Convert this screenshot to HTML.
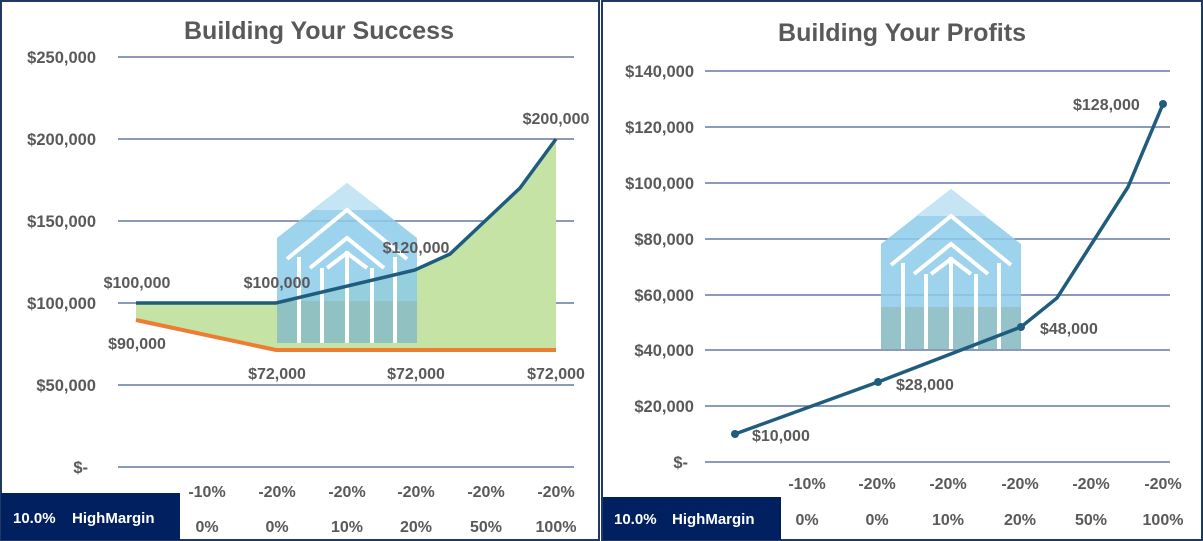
<!DOCTYPE html>
<html><head><style>
body{margin:0;background:#fff;}
svg{display:block;font-family:"Liberation Sans",sans-serif;}
.t{font-weight:bold;fill:#595959;}
</style></head><body>
<svg width="1203" height="541" viewBox="0 0 1203 541">
<defs>
<g id="logo">
<path d="M0,55 L70,0 L140,55 L140,160 L0,160 Z" fill="#8ccbe9" opacity="0.85"/>
<path d="M35,27 L70,0 L105,27 Z" fill="#c5e5f4"/>
<rect x="0" y="118" width="140" height="42" fill="#8fb0a0" opacity="0.45"/>
<g fill="none" stroke="#fff" stroke-width="4">
<path d="M10,76 L70,27 L130,76"/>
<path d="M33,85 L70,55 L107,85"/>
<path d="M50,85 L70,70 L90,85"/>
<path d="M22,74 V160 M118,74 V160 M45,85 V160 M95,85 V160 M70,68 V160"/>
</g>
</g>
</defs>
<!-- left panel -->
<rect x="1" y="1" width="598" height="539" fill="#fff" stroke="#1f3864" stroke-width="2"/>
<text x="319" y="39" text-anchor="middle" font-size="25" class="t" textLength="270" lengthAdjust="spacingAndGlyphs">Building Your Success</text>
<g stroke="#6478a0" stroke-width="1.5">
<line x1="118" x2="574" y1="57" y2="57"/><line x1="118" x2="574" y1="139" y2="139"/>
<line x1="118" x2="574" y1="221" y2="221"/><line x1="118" x2="574" y1="303" y2="303"/>
<line x1="118" x2="574" y1="385" y2="385"/><line x1="118" x2="574" y1="467" y2="467"/>
</g>
<g font-size="16.5" class="t" text-anchor="end">
<text x="96" y="63">$250,000</text><text x="96" y="145">$200,000</text>
<text x="96" y="227">$150,000</text><text x="96" y="309">$100,000</text>
<text x="96" y="391">$50,000</text><text x="88" y="473">$-</text>
</g>
<polygon points="136,303 276,303 415,270 450,254 520,188 556,139 556,350 276,350 136,320" fill="#c5e3a4"/>
<use href="#logo" x="277" y="183"/>
<polyline points="136,320 276,350 556,350" fill="none" stroke="#ed7d31" stroke-width="4"/>
<polyline points="136,303 276,303 415,270 450,254 520,188 556,139" fill="none" stroke="#1f5c7d" stroke-width="3.5"/>
<g font-size="16" class="t" text-anchor="middle">
<text x="137" y="288">$100,000</text><text x="137" y="349">$90,000</text>
<text x="277" y="288">$100,000</text><text x="277" y="379">$72,000</text>
<text x="416" y="253">$120,000</text><text x="416" y="379">$72,000</text>
<text x="556" y="124">$200,000</text><text x="556" y="379">$72,000</text>
<text x="207" y="497">-10%</text><text x="277" y="497">-20%</text><text x="347" y="497">-20%</text>
<text x="416" y="497">-20%</text><text x="486" y="497">-20%</text><text x="556" y="497">-20%</text>
<text x="207" y="532">0%</text><text x="277" y="532">0%</text><text x="347" y="532">10%</text>
<text x="416" y="532">20%</text><text x="486" y="532">50%</text><text x="556" y="532">100%</text>
</g>
<rect x="1" y="493" width="179" height="47" fill="#002060"/>
<text x="13" y="523" font-size="15" font-weight="bold" fill="#fff">10.0%</text>
<text x="72" y="523" font-size="15" font-weight="bold" fill="#fff">HighMargin</text>
<!-- right panel -->
<rect x="602" y="1" width="600" height="539" fill="#fff" stroke="#1f3864" stroke-width="2"/>
<text x="902" y="41" text-anchor="middle" font-size="25" class="t" textLength="248" lengthAdjust="spacingAndGlyphs">Building Your Profits</text>
<g stroke="#6478a0" stroke-width="1.5">
<line x1="705" x2="1170" y1="71" y2="71"/><line x1="705" x2="1170" y1="127" y2="127"/>
<line x1="705" x2="1170" y1="183" y2="183"/><line x1="705" x2="1170" y1="239" y2="239"/>
<line x1="705" x2="1170" y1="295" y2="295"/><line x1="705" x2="1170" y1="350" y2="350"/>
<line x1="705" x2="1170" y1="406" y2="406"/><line x1="705" x2="1170" y1="462" y2="462"/>
</g>
<g font-size="16.5" class="t" text-anchor="end">
<text x="694" y="77">$140,000</text><text x="694" y="133">$120,000</text>
<text x="694" y="189">$100,000</text><text x="694" y="245">$80,000</text>
<text x="694" y="301">$60,000</text><text x="694" y="356">$40,000</text>
<text x="694" y="412">$20,000</text><text x="688" y="468">$-</text>
</g>
<use href="#logo" x="881" y="189"/>
<polyline points="735,434 878,382 1021,327 1057,298 1128,187 1163,104" fill="none" stroke="#1f5c7d" stroke-width="3.5"/>
<g fill="#1f5c7d"><circle cx="735" cy="434" r="4"/><circle cx="878" cy="382" r="4"/><circle cx="1021" cy="327" r="4"/><circle cx="1163" cy="104" r="4"/></g>
<g font-size="16" class="t">
<text x="752" y="441">$10,000</text><text x="896" y="390">$28,000</text>
<text x="1040" y="334">$48,000</text><text x="1073" y="110">$128,000</text>
</g>
<g font-size="16" class="t" text-anchor="middle">
<text x="807" y="489">-10%</text><text x="877" y="489">-20%</text><text x="948" y="489">-20%</text>
<text x="1020" y="489">-20%</text><text x="1091" y="489">-20%</text><text x="1163" y="489">-20%</text>
<text x="807" y="525">0%</text><text x="877" y="525">0%</text><text x="948" y="525">10%</text>
<text x="1020" y="525">20%</text><text x="1091" y="525">50%</text><text x="1163" y="525">100%</text>
</g>
<rect x="603" y="497" width="178" height="43" fill="#002060"/>
<text x="614" y="524" font-size="15" font-weight="bold" fill="#fff">10.0%</text>
<text x="672" y="524" font-size="15" font-weight="bold" fill="#fff">HighMargin</text>
</svg>
</body></html>
